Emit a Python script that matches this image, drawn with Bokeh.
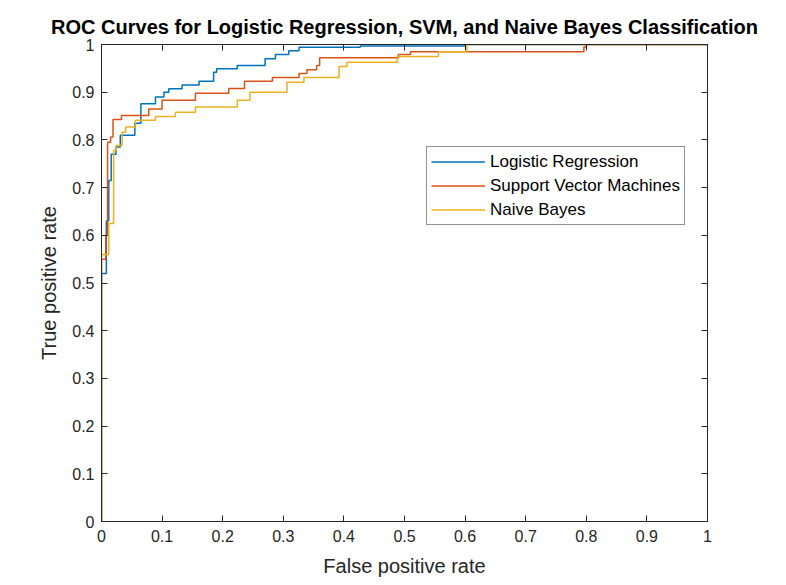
from bokeh.plotting import figure
from bokeh.models import Range1d, LinearAxis, FixedTicker, Legend, LegendItem, CustomJSTickFormatter
from bokeh.embed import file_html
from bokeh.resources import INLINE

# ---- data ----
lr_fpr = [0, 0, 0.008, 0.012, 0.016, 0.024, 0.031, 0.055, 0.065, 0.089, 0.103, 0.111, 0.133,
          0.161, 0.185, 0.19, 0.224, 0.27, 0.287, 0.309, 0.326, 0.427, 0.6, 1]
lr_tpr = [0, 0.52, 0.63, 0.715, 0.77, 0.785, 0.81, 0.835, 0.876, 0.89, 0.9, 0.907, 0.915,
          0.923, 0.942, 0.949, 0.956, 0.97, 0.979, 0.987, 0.994, 0.997, 1.0, 1.0]

svm_fpr = [0, 0, 0.007, 0.01, 0.015, 0.019, 0.033, 0.078, 0.1, 0.155, 0.21, 0.236, 0.282,
           0.326, 0.339, 0.355, 0.36, 0.49, 0.51, 0.796, 0.8, 1]
svm_tpr = [0, 0.55, 0.60, 0.795, 0.806, 0.843, 0.851, 0.865, 0.883, 0.898, 0.908, 0.923, 0.931,
           0.939, 0.947, 0.956, 0.972, 0.979, 0.985, 0.995, 1.0, 1.0]

nb_fpr = [0, 0, 0.012, 0.02, 0.024, 0.034, 0.04, 0.056, 0.089, 0.122, 0.155, 0.224, 0.245,
          0.306, 0.334, 0.392, 0.405, 0.488, 0.556, 0.603, 1]
nb_tpr = [0, 0.56, 0.625, 0.778, 0.788, 0.816, 0.827, 0.841, 0.849, 0.858, 0.869, 0.883, 0.9,
          0.921, 0.931, 0.954, 0.963, 0.975, 0.985, 1.0, 1.0]

series_names = ["Logistic Regression", "Support Vector Machines", "Naive Bayes"]
series_colors = ["#0072BD", "#D95319", "#EDB120"]

tick_values = [0, 0.1, 0.2, 0.3, 0.4, 0.5, 0.6, 0.7, 0.8, 0.9, 1]
tick_labels = ["0", "0.1", "0.2", "0.3", "0.4", "0.5", "0.6", "0.7", "0.8", "0.9", "1"]

FONT = "Liberation Sans"
AX = "#262626"

p = figure(width=770, height=585, output_backend="svg", toolbar_location=None,
           x_range=Range1d(0, 1), y_range=Range1d(0, 1),
           min_border_left=101, min_border_right=63, min_border_top=44, min_border_bottom=64,
           x_axis_label="False positive rate", y_axis_label="True positive rate")

p.title.text = "ROC Curves for Logistic Regression, SVM, and Naive Bayes Classification"
p.title.align = "center"
p.title.text_font = FONT
p.title.text_font_size = "20px"
p.title.text_font_style = "bold"
p.title.text_color = "#000000"
p.title.offset = 0
p.title.standoff = 14

p.grid.visible = False
p.outline_line_color = AX
p.outline_line_width = 1

overrides = {v: l for v, l in zip(tick_values, tick_labels)}
for ax in (p.xaxis[0], p.yaxis[0]):
    ax.ticker = FixedTicker(ticks=tick_values)
    ax.major_label_overrides = overrides
    ax.major_tick_in = 6
    ax.major_tick_out = 0
    ax.minor_tick_in = 0
    ax.minor_tick_out = 0
    ax.axis_line_color = AX
    ax.major_tick_line_color = AX
    ax.major_label_text_font = FONT
    ax.major_label_text_font_size = "16px"
    ax.major_label_text_color = AX
    ax.axis_label_text_font = FONT
    ax.axis_label_text_font_size = "20px"
    ax.axis_label_text_font_style = "normal"
    ax.axis_label_text_color = AX
p.xaxis[0].major_label_standoff = 8
p.yaxis[0].major_label_standoff = 7
p.xaxis[0].axis_label_standoff = 10
p.yaxis[0].axis_label_standoff = 9

for loc in ("above", "right"):
    a = LinearAxis(ticker=FixedTicker(ticks=tick_values), major_tick_in=6, major_tick_out=0,
                   minor_tick_in=0, minor_tick_out=0,
                   formatter=CustomJSTickFormatter(code="return ''"),
                   major_label_standoff=0, axis_line_color=AX, major_tick_line_color=AX)
    p.add_layout(a, loc)

r1 = p.step(lr_fpr, lr_tpr, mode="after", line_color=series_colors[0], line_width=1.5)
r2 = p.step(svm_fpr, svm_tpr, mode="after", line_color=series_colors[1], line_width=1.5)
r3 = p.step(nb_fpr, nb_tpr, mode="after", line_color=series_colors[2], line_width=1.5)

legend = Legend(items=[LegendItem(label=n, renderers=[r]) for n, r in zip(series_names, [r1, r2, r3])],
                location=(325, 296), margin=0, padding=4, spacing=3,
                glyph_width=54, glyph_height=21, label_height=21, label_standoff=5,
                label_text_font=FONT, label_text_font_size="17px", label_text_color="#000000",
                border_line_color=AX, border_line_width=1, background_fill_alpha=1)
p.add_layout(legend, "center")

open("out.html", "w").write(file_html(p, INLINE))
